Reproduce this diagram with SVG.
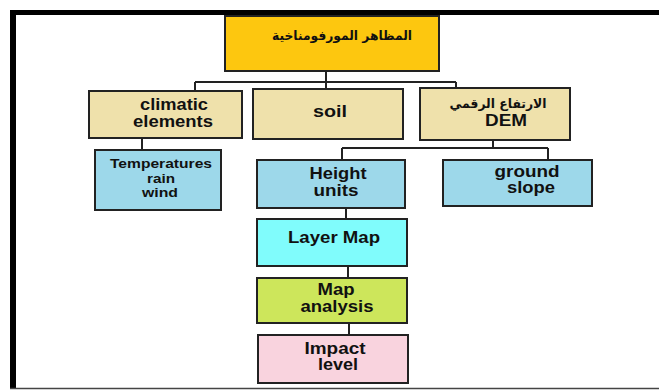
<svg xmlns="http://www.w3.org/2000/svg" width="659" height="390" viewBox="0 0 659 390">
<style>
.box{stroke:#222;stroke-width:2}
.t{font-family:"Liberation Sans",Arial,sans-serif;font-weight:bold;font-size:16px;fill:#111;text-anchor:middle}
.s{font-size:13px}
.ar{font-family:"DejaVu Sans","Noto Sans",sans-serif;font-weight:bold;font-size:13px;fill:#111;text-anchor:middle}
.c{stroke:#222;stroke-width:2;fill:none}
</style>
<rect x="0" y="0" width="659" height="390" fill="#fff"/>
<g id="frame">
<rect x="10" y="10" width="649" height="5" fill="#000"/>
<rect x="10" y="10" width="6" height="379" fill="#000"/>
<line x1="10" y1="388.5" x2="659" y2="388.5" stroke="#444" stroke-width="1.5"/>
</g>
<g id="connectors">
<path class="c" d="M326 71V82M195 82H456M195 82V91M456 82V88M326 82V89"/>
<path class="c" d="M142 138V150"/>
<path class="c" d="M493 140V148M342 148H548M342 148V160M548 148V160"/>
<path class="c" d="M346 208V219M348 266V278M349 323V335"/>
</g>
<g id="n-top">
<rect class="box" x="225" y="16" width="214" height="55" fill="#FDC70F"/>
<text class="ar" x="342" y="40" textLength="140" lengthAdjust="spacingAndGlyphs">المظاهر المورفومناخية</text>
</g>
<g id="n-climatic">
<rect class="box" x="89" y="91" width="153" height="47" fill="#EFE1AB"/>
<text class="t" x="174" y="110" textLength="68" lengthAdjust="spacingAndGlyphs">climatic</text>
<text class="t" x="173" y="127" textLength="80" lengthAdjust="spacingAndGlyphs">elements</text>
</g>
<g id="n-soil">
<rect class="box" x="253" y="89" width="150" height="50" fill="#EFE1AB"/>
<text class="t" x="330" y="117" textLength="34" lengthAdjust="spacingAndGlyphs">soil</text>
</g>
<g id="n-dem">
<rect class="box" x="420" y="88" width="150" height="52" fill="#EFE1AB"/>
<text class="ar" x="498" y="108" textLength="97" lengthAdjust="spacingAndGlyphs">الارتفاع الرقمي</text>
<text class="t" x="506" y="126" textLength="42" lengthAdjust="spacingAndGlyphs">DEM</text>
</g>
<g id="n-temps">
<rect class="box" x="95" y="150" width="126" height="60" fill="#9DD8EA"/>
<text class="t s" x="161" y="168" textLength="102" lengthAdjust="spacingAndGlyphs">Temperatures</text>
<text class="t s" x="161" y="182.5" textLength="28" lengthAdjust="spacingAndGlyphs">rain</text>
<text class="t s" x="160" y="197" textLength="36" lengthAdjust="spacingAndGlyphs">wind</text>
</g>
<g id="n-height">
<rect class="box" x="257" y="160" width="148" height="48" fill="#9DD8EA"/>
<text class="t" x="338" y="179" textLength="57" lengthAdjust="spacingAndGlyphs">Height</text>
<text class="t" x="336" y="196" textLength="45" lengthAdjust="spacingAndGlyphs">units</text>
</g>
<g id="n-ground">
<rect class="box" x="443" y="160" width="149" height="46" fill="#9DD8EA"/>
<text class="t" x="527" y="177" textLength="65" lengthAdjust="spacingAndGlyphs">ground</text>
<text class="t" x="531" y="193" textLength="48" lengthAdjust="spacingAndGlyphs">slope</text>
</g>
<g id="n-layer">
<rect class="box" x="257" y="219" width="150" height="47" fill="#80FCFC"/>
<text class="t" x="334" y="243" textLength="92" lengthAdjust="spacingAndGlyphs">Layer Map</text>
</g>
<g id="n-analysis">
<rect class="box" x="257" y="278" width="150" height="45" fill="#CDE65B"/>
<text class="t" x="336" y="295" textLength="37" lengthAdjust="spacingAndGlyphs">Map</text>
<text class="t" x="337" y="311.5" textLength="73" lengthAdjust="spacingAndGlyphs">analysis</text>
</g>
<g id="n-impact">
<rect class="box" x="258" y="335" width="150" height="48" fill="#F9D3DE"/>
<text class="t" x="335" y="354" textLength="61" lengthAdjust="spacingAndGlyphs">Impact</text>
<text class="t" x="338" y="370" textLength="40" lengthAdjust="spacingAndGlyphs">level</text>
</g>
</svg>
